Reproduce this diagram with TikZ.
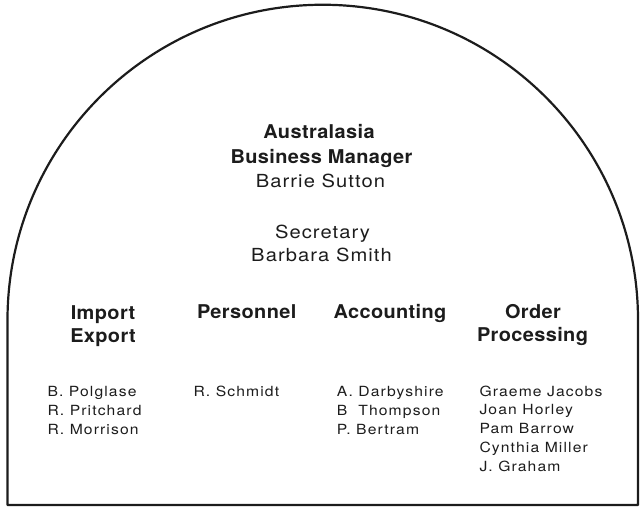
\documentclass[tikz,border=0pt]{standalone}
\usepackage{fontspec}
\newfontfamily\hvr[FakeStretch=1.12,LetterSpace=6]{TeX Gyre Heros}
\newfontfamily\hvn[FakeStretch=1.12,LetterSpace=8]{TeX Gyre Heros}
\newfontfamily\hvb[FakeStretch=1.05,LetterSpace=2]{TeX Gyre Heros}
\definecolor{ink}{HTML}{1c1c1c}
\tikzset{
  frame/.style={draw=ink, line width=2.2pt, line join=round},
  head/.style={inner sep=0pt, anchor=base, text=ink, font=\hvb\bfseries\fontsize{19}{19}\selectfont},
  sub/.style={inner sep=0pt, anchor=base, text=ink, font=\hvr\fontsize{18}{18}\selectfont},
  nm/.style={inner sep=0pt, anchor=base west, text=ink, font=\hvn\fontsize{14}{14}\selectfont}
}
\begin{document}
\begin{tikzpicture}[x=1pt,y=-1pt]
\useasboundingbox (0,0) rectangle (642,508);
% arch frame
\draw[frame] (7.5,505) -- (7.5,320) arc[start angle=180, end angle=360, radius=315.25] -- (638,505) -- cycle;
% manager block
\node[head] (t1) at (319,138.3) {Australasia};
\node[head] (t2) at (321.5,163.3) {Business Manager};
\node[sub] (mgr) at (320.5,187.3) {Barrie Sutton};
\node[sub] (sec) at (322.5,238.3) {Secretary};
\node[sub] (secn) at (321.5,261) {Barbara Smith};
% department heads
\node[head] (ie1) at (103,319) {Import};
\node[head] (ie2) at (103,342.7) {Export};
\node[head] (per) at (246.7,318.3) {Personnel};
\node[head] (acc) at (390,318.3) {Accounting};
\node[head] (op1) at (533,318.3) {Order};
\node[head] (op2) at (532.5,341.7) {Processing};
% staff
\foreach \t [count=\i] in {B. Polglase, R. Pritchard, R. Morrison}
  \node[nm] (ien\i) at (47.3,{396+19*(\i-1)}) {\t};
\node[nm] (pern1) at (193.3,396) {R. Schmidt};
\foreach \t [count=\i] in {A. Darbyshire, B\ \ Thompson, P. Bertram}
  \node[nm] (accn\i) at (336.7,{396+19*(\i-1)}) {\t};
\foreach \t [count=\i] in {Graeme Jacobs, Joan Horley, Pam Barrow, Cynthia Miller, J. Graham}
  \node[nm] (opn\i) at (479.3,{396+18.9*(\i-1)}) {\t};
\end{tikzpicture}
\end{document}
